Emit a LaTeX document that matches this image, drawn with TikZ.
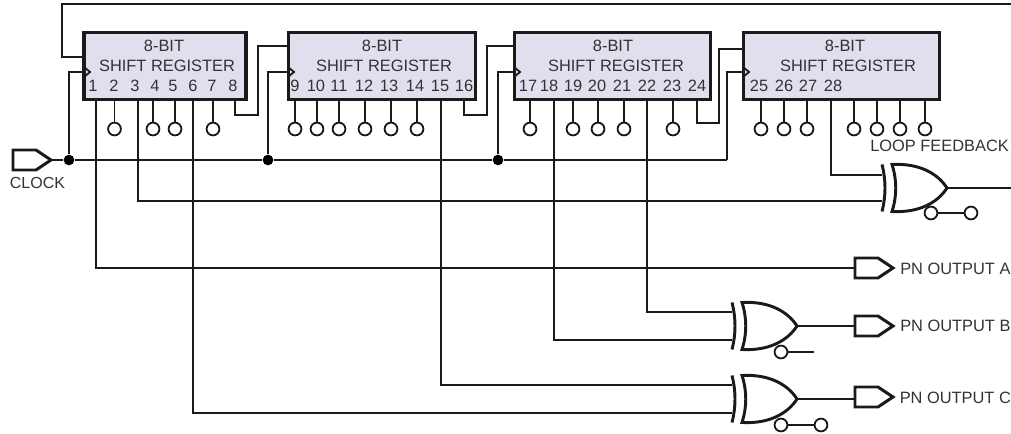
\documentclass[tikz,border=0pt]{standalone}
\usepackage{fontspec}
\setmainfont{Liberation Sans}
\definecolor{regfill}{HTML}{DFDFEE}
\definecolor{ink}{HTML}{1A1A1A}
\definecolor{txt}{HTML}{333333}
\tikzset{
  wire/.style={draw=ink,line width=1.35pt,line join=miter},
  heavy/.style={draw=ink,line width=2.2pt,line join=miter},
  reg/.style={draw=ink,line width=2.4pt,fill=regfill,rectangle,inner sep=0pt,minimum height=50.5pt},
  txtb/.style={text=txt,font=\fontsize{12.3}{14}\selectfont,inner sep=0pt,anchor=base},
  txtl/.style={txtb,anchor=base west},
  nc/.style={circle,draw=ink,line width=1.35pt,fill=white,inner sep=0pt,minimum size=9.6pt},
  dotj/.style={circle,fill=black,inner sep=0pt,minimum size=8pt},
}
\newcommand{\flagport}[3]{%
  \coordinate (#1w) at (#2,#3);
  \coordinate (#1e) at (#2+38,#3);
  \draw[heavy] (#2,#3-10) -- (#2+23,#3-10) -- (#2+38,#3) -- (#2+23,#3+10) -- (#2,#3+10) -- cycle;
}
\newcommand{\xorgate}[4]{%
  \coordinate (#1o) at (#2,#3);
  \coordinate (#1a) at (#2-65,#3-#4);
  \coordinate (#1b) at (#2-65,#3+#4);
  \draw[heavy,fill=white] (#2-55,#3-23.5) .. controls (#2-27,#3-25) and (#2-9,#3-14) .. (#2,#3)
     .. controls (#2-9,#3+14) and (#2-27,#3+25) .. (#2-55,#3+23.5)
     .. controls (#2-50,#3+8) and (#2-50,#3-8) .. cycle;
  \draw[heavy] (#2-65,#3-23.5) .. controls (#2-61,#3-8) and (#2-61,#3+8) .. (#2-65,#3+23.5);
}
\begin{document}
\begin{tikzpicture}[x=0.75pt,y=-0.75pt]
\useasboundingbox (0,0) rectangle (1011,434);
\clip (0,0) rectangle (1011,434);

% registers
\node[reg,minimum width=121.5pt] (r1) at (165,66) {};
\node[reg,minimum width=140pt] (r2) at (382,66) {};
\node[reg,minimum width=147.5pt] (r3) at (612.5,66) {};
\node[reg,minimum width=147.5pt] (r4) at (841.5,66) {};

\node[txtb] (t1a) at (164,51.5) {8-BIT};
\node[txtb] (t1b) at (167,72) {SHIFT REGISTER};
\node[txtb] (t2a) at (382,51.5) {8-BIT};
\node[txtb] (t2b) at (384,72) {SHIFT REGISTER};
\node[txtb] (t3a) at (613,51.5) {8-BIT};
\node[txtb] (t3b) at (616,72) {SHIFT REGISTER};
\node[txtb] (t4a) at (845,51.5) {8-BIT};
\node[txtb] (t4b) at (848,72) {SHIFT REGISTER};

% pin numbers
\foreach \n/\x in {1/93,2/114,3/135,4/155,5/173,6/193,7/212,8/233,
  9/295,10/316,11/339,12/364,13/389,14/415,15/440,16/464,
  17/528,18/549,19/573,20/597,21/622,22/647,23/672,24/697,
  25/759,26/784,27/808,28/833}
  \node[txtb] (pin\n) at (\x,92) {\n};

% no-connect pins
\foreach \i/\x in {a/114.5,b/153,c/175,d/213,e/295,f/317,g/339,h/365,i/391,j/417,
  k/530,l/573,m/598,n/624,o/673,p/761,q/784,r/807,s/854,t/877,u/900,v/925}{
  \coordinate (s\i) at (\x,100);
  \node[nc] (c\i) at (\x,129) {};
  \draw[wire] (s\i) -- (c\i);
}

% clock
\flagport{ck}{13}{160}
\node[txtb] (cklabel) at (37.5,189) {\fontsize{12}{14}\selectfont CLOCK};
\node[dotj] (d1) at (69,160) {};
\node[dotj] (d2) at (268,160) {};
\node[dotj] (d3) at (498,160) {};
\coordinate (ckend) at (727,160);
\draw[wire] (cke) -- (d1) -- (d2) -- (d3) -- (ckend);
\coordinate (k1) at (83,72); \coordinate (k2) at (287,72);
\coordinate (k3) at (513,72); \coordinate (k4) at (742,72);
\draw[wire] (d1) |- (k1);
\draw[wire] (d2) |- (k2);
\draw[wire] (d3) |- (k3);
\draw[wire] (ckend) |- (k4);
\foreach \k in {k1,k2,k3,k4}
  \draw[wire] (\k)++(1,-5) -- ++(6,5) -- ++(-6,5);

% feedback loop
\coordinate (fbr) at (1011,4);
\coordinate (fbl) at (62,4);
\coordinate (fbi) at (83,57);
\draw[wire] (fbr) -- (fbl) |- (fbi);

% chaining
\coordinate (o8) at (235,100); \coordinate (i9) at (287,46);
\draw[wire] (o8) -- (235,115) -- (258,115) |- (i9);
\coordinate (o16) at (464,100); \coordinate (i17) at (513,46);
\draw[wire] (o16) -- (464,115) -- (487,115) |- (i17);
\coordinate (o24) at (697,100); \coordinate (i25) at (742,49);
\draw[wire] (o24) -- (697,123) -- (719,123) |- (i25);

% gates
\xorgate{gf}{947}{188}{13}
\xorgate{gb}{797}{326}{14}
\xorgate{gc}{797}{399}{14}

% outputs
\flagport{oa}{855}{268}
\flagport{ob}{855}{326}
\flagport{oc}{855}{397}
\node[txtl] (la) at (900,275) {PN OUTPUT A};
\node[txtl] (lb) at (900,332) {PN OUTPUT B};
\node[txtl] (lc) at (899.5,404) {PN OUTPUT C};
\node[txtl] (lf) at (870,151.5) {LOOP FEEDBACK};

% long pin wires
\coordinate (w1) at (96,100); \draw[wire] (w1) |- (oaw);
\coordinate (w3) at (138,100); \draw[wire] (w3) |- (gfb);
\coordinate (w6) at (193,100); \draw[wire] (w6) |- (gcb);
\coordinate (w15) at (441,100); \draw[wire] (w15) |- (gca);
\coordinate (w18) at (554,100); \draw[wire] (w18) |- (gbb);
\coordinate (w22) at (647,100); \draw[wire] (w22) |- (gba);
\coordinate (w28) at (831,100); \draw[wire] (w28) |- (gfa);

% gate outputs
\coordinate (fout) at (1011,188);
\draw[wire] (gfo) -- (fout);
\draw[wire] (gbo) -- (obw);
\draw[wire] (gco) -- (855,399);

% gate control bubbles
\node[nc] (bf) at (931,213) {};
\node[nc] (ef) at (971,213) {};
\draw[wire] (bf) -- (ef);
\node[nc] (bb) at (781,352) {};
\coordinate (eb) at (814,352);
\draw[wire] (bb) -- (eb);
\node[nc] (bc) at (781,425) {};
\node[nc] (ec) at (821,425) {};
\draw[wire] (bc) -- (ec);
\end{tikzpicture}
\end{document}
